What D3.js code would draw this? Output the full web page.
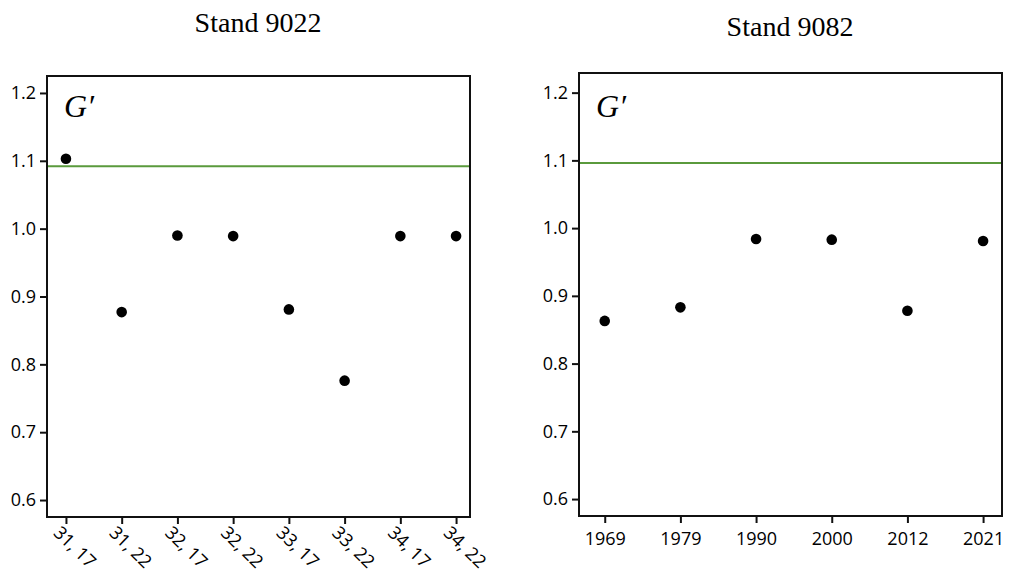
<!DOCTYPE html>
<html lang="en">
<head>
  <meta charset="UTF-8">
  <title>Stand 9022 / Stand 9082 - G'</title>
  <script src="https://cdnjs.cloudflare.com/ajax/libs/d3/7.8.5/d3.min.js"></script>
  <style>
    body { margin: 0; background: white; }
    svg { display: block; }
  </style>
</head>
<body>
  <script>
    // left panel: Stand 9022
    var leftTitle = "Stand 9022";
    var leftCats = ["31, 17", "31, 22", "32, 17", "32, 22", "33, 17", "33, 22", "34, 17", "34, 22"];
    var leftVals = [1.103, 0.877, 0.990, 0.989, 0.881, 0.776, 0.989, 0.989];
    var leftRef = 1.092;

    // right panel: Stand 9082
    var rightTitle = "Stand 9082";
    var rightCats = ["1969", "1979", "1990", "2000", "2012", "2021"];
    var rightVals = [0.863, 0.883, 0.984, 0.983, 0.878, 0.981];
    var rightRef = 1.096;

    var yTicks = [0.6, 0.7, 0.8, 0.9, 1.0, 1.1, 1.2];

    var w = 1012, h = 580;
    var svg = d3.select("body").append("svg")
      .attr("width", w)
      .attr("height", h);

    var sans = "'Open Sans', sans-serif";
    var serif = "'Liberation Serif', 'Times New Roman', serif";

    function panel(opt) {
      var g = svg.append("g");

      var x = d3.scaleLinear()
        .domain([-0.34, opt.cats.length - 1 + 0.25])
        .range([opt.left, opt.right]);
      var y = d3.scaleLinear()
        .domain([0.575, opt.yTop])
        .range([opt.bottom, opt.top]);

      // title
      g.append("text")
        .attr("x", opt.titleX)
        .attr("y", opt.titleY)
        .attr("text-anchor", "middle")
        .style("font-family", serif)
        .style("font-size", "28px")
        .text(opt.title);

      // y axis
      var yAxis = g.append("g")
        .attr("transform", "translate(" + opt.left + ",0)")
        .call(d3.axisLeft(y).tickValues(yTicks).tickFormat(d3.format(".1f")).tickSize(7).tickPadding(4));
      yAxis.select(".domain").remove();
      yAxis.selectAll("line").attr("stroke", "#111").attr("stroke-width", 2);
      yAxis.selectAll("text")
        .style("font-family", sans)
        .style("font-size", "18px")
        .attr("fill", "#000");

      // x axis
      var xAxis = g.append("g")
        .attr("transform", "translate(0," + opt.bottom + ")")
        .call(d3.axisBottom(x).tickValues(d3.range(opt.cats.length))
          .tickFormat(function(i) { return opt.cats[i]; }).tickSize(7).tickPadding(6));
      xAxis.select(".domain").remove();
      xAxis.selectAll("line").attr("stroke", "#111").attr("stroke-width", 2);
      var xt = xAxis.selectAll("text")
        .style("font-family", sans)
        .style("font-size", "18px")
        .attr("fill", "#000");
      if (opt.rotate) {
        xt.attr("text-anchor", "start")
          .attr("dy", null)
          .attr("y", 0)
          .attr("transform", "translate(-14,17) rotate(44)");
      } else {
        xt.attr("dy", "0.9em");
      }

      // reference line
      g.append("line")
        .attr("x1", opt.left)
        .attr("x2", opt.right)
        .attr("y1", y(opt.ref))
        .attr("y2", y(opt.ref))
        .attr("stroke", "#5a9a3c")
        .attr("stroke-width", 2);

      // points
      g.selectAll("circle")
        .data(opt.vals)
        .enter()
        .append("circle")
        .attr("cx", function(d, i) { return x(i); })
        .attr("cy", function(d) { return y(d); })
        .attr("r", 5.3)
        .attr("fill", "black");

      // frame
      g.append("rect")
        .attr("x", opt.left)
        .attr("y", opt.top)
        .attr("width", opt.right - opt.left)
        .attr("height", opt.bottom - opt.top)
        .attr("fill", "none")
        .attr("stroke", "#111")
        .attr("stroke-width", 2);

      // G' label
      g.append("text")
        .attr("x", opt.left + 17)
        .attr("y", 117)
        .style("font-family", serif)
        .style("font-style", "italic")
        .style("font-size", "32px")
        .text("G\u2032");
    }

    panel({
      title: leftTitle, cats: leftCats, vals: leftVals, ref: leftRef,
      left: 47, right: 470, top: 76, bottom: 517, yTop: 1.225,
      titleX: 258, titleY: 32, rotate: true
    });

    panel({
      title: rightTitle, cats: rightCats, vals: rightVals, ref: rightRef,
      left: 579, right: 1002, top: 73, bottom: 516, yTop: 1.229,
      titleX: 790, titleY: 36, rotate: false
    });
  </script>
</body>
</html>
